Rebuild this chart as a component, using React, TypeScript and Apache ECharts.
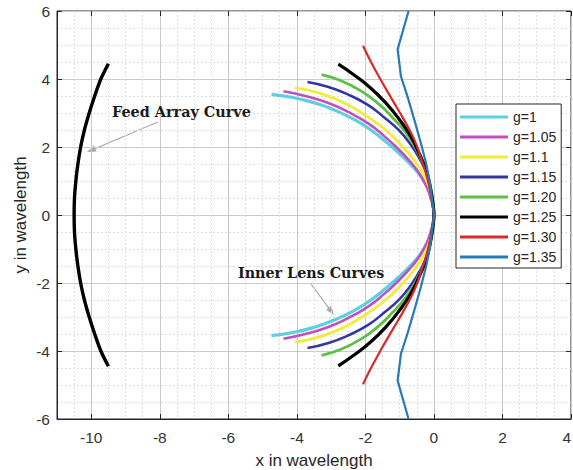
import React, { useEffect, useRef } from 'react';
import * as echarts from 'echarts';

// ---- data ----
const seriesNames = ['g=1', 'g=1.05', 'g=1.1', 'g=1.15', 'g=1.20', 'g=1.25', 'g=1.30', 'g=1.35'];
const seriesColors = ['#5ccfe0', '#c04fc0', '#f0ec3a', '#3434a4', '#5dbf45', '#000000', '#d82a2a', '#2a7ab8'];
const seriesWidths = [3.2, 2.6, 2.8, 2.5, 2.8, 3.2, 2.2, 2.2];

const xTicks = [-10, -8, -6, -4, -2, 0, 2, 4];
const yTicks = [-6, -4, -2, 0, 2, 4, 6];

const feedCurve = [
  [-9.5, 4.45], [-9.72, 4.0], [-9.9, 3.5], [-10.06, 3.0], [-10.2, 2.5], [-10.31, 2.0], [-10.39, 1.5],
  [-10.45, 1.0], [-10.49, 0.5], [-10.5, 0],
  [-10.49, -0.5], [-10.45, -1.0], [-10.39, -1.5], [-10.31, -2.0], [-10.2, -2.5], [-10.06, -3.0],
  [-9.9, -3.5], [-9.72, -4.0], [-9.5, -4.45],
];

// upper halves of the inner lens curves (outer end -> vertex); the curves are symmetric about y = 0
const g100 = [[-4.74, 3.55], [-4.08, 3.45], [-3.49, 3.30], [-2.91, 3.09], [-2.33, 2.81], [-1.84, 2.50], [-1.35, 2.11], [-0.96, 1.76], [-0.62, 1.42], [-0.38, 1.13], [-0.18, 0.78], [-0.07, 0.44], [0, 0]];
const g105 = [[-4.39, 3.64], [-3.78, 3.51], [-3.10, 3.30], [-2.52, 3.04], [-1.93, 2.70], [-1.45, 2.32], [-1.06, 1.96], [-0.72, 1.60], [-0.43, 1.23], [-0.21, 0.83], [-0.09, 0.49], [0, 0]];
const g110 = [[-4.06, 3.74], [-3.49, 3.63], [-2.91, 3.43], [-2.33, 3.14], [-1.79, 2.79], [-1.35, 2.45], [-0.96, 2.06], [-0.62, 1.67], [-0.38, 1.32], [-0.18, 0.93], [-0.07, 0.54], [0, 0]];
const g115 = [[-3.69, 3.91], [-3.10, 3.77], [-2.52, 3.55], [-1.93, 3.24], [-1.45, 2.87], [-1.01, 2.48], [-0.67, 2.06], [-0.40, 1.62], [-0.20, 1.18], [-0.09, 0.74], [0, 0]];
const g120 = [[-3.28, 4.13], [-2.71, 3.95], [-2.13, 3.65], [-1.64, 3.29], [-1.21, 2.87], [-0.82, 2.42], [-0.53, 1.96], [-0.30, 1.47], [-0.14, 0.98], [-0.05, 0.54], [0, 0]];
const g125 = [[-2.79, 4.44], [-2.33, 4.12], [-1.84, 3.73], [-1.40, 3.29], [-1.01, 2.81], [-0.67, 2.30], [-0.43, 1.81], [-0.23, 1.32], [-0.11, 0.83], [-0.03, 0.34], [0, 0]];
const g130 = [[-2.07, 4.98], [-1.84, 4.51], [-1.55, 3.97], [-1.21, 3.38], [-0.87, 2.79], [-0.57, 2.21], [-0.36, 1.62], [-0.18, 1.03], [-0.07, 0.49], [0, 0]];
const g135 = [[-0.74, 6.0], [-1.06, 4.87], [-0.96, 4.07], [-0.77, 3.48], [-0.57, 2.79], [-0.38, 2.11], [-0.23, 1.52], [-0.11, 0.93], [0, 0]];

const lensHalves = [g100, g105, g110, g115, g120, g125, g130, g135];

const X_MIN = -11, X_MAX = 4, Y_MIN = -6, Y_MAX = 6;

const FONT = 'Liberation Sans, Arial, Helvetica, sans-serif';
const SERIF = 'DejaVu Serif, Liberation Serif, serif';
const MAJOR = '#c9c9c9';
const MINOR = '#dedede';
const AXIS = '#262626';

function fullCurve(upper: number[][]) {
  const lower = upper.slice(0, -1).reverse().map(([x, y]) => [x, -y]);
  return [...upper, ...lower];
}

function isTick(v: number, ticks: number[]) {
  return ticks.some((t) => Math.abs(t - v) < 1e-6);
}

function arrow(x1: number, y1: number, x2: number, y2: number) {
  const dx = x2 - x1, dy = y2 - y1, L = Math.hypot(dx, dy);
  const ux = dx / L, uy = dy / L;
  const hl = 9, hw = 3.3;
  const bx = x2 - ux * hl, by = y2 - uy * hl;
  const c = '#a8a8a8';
  return [
    { type: 'line', shape: { x1, y1, x2: bx, y2: by }, style: { stroke: c, lineWidth: 1.2 }, silent: true },
    {
      type: 'polygon',
      shape: { points: [[x2, y2], [bx - uy * hw, by + ux * hw], [bx + uy * hw, by - ux * hw]] },
      style: { fill: c },
      silent: true,
    },
  ];
}

export default function App() {
  const ref = useRef<HTMLDivElement>(null);

  useEffect(() => {
    if (!ref.current) return;
    const chart = echarts.init(ref.current, null, { renderer: 'svg' });

    const W = 573;
    const gl = 57, gr = 2, gt = 11, gb = 51;
    const pxPerX = (W - gl - gr) / (X_MAX - X_MIN);
    const firstMajor = xTicks[0];
    // second grid starts exactly at the first even x tick so that interval 2 counts from it
    const gl2 = gl + (firstMajor - X_MIN) * pxPerX;

    const series: any[] = [
      {
        name: 'Feed Array Curve',
        type: 'line',
        data: feedCurve,
        smooth: 0.3,
        showSymbol: false,
        symbol: 'none',
        z: 3,
        lineStyle: { color: '#000', width: 3.4 },
        silent: true,
      },
    ];
    lensHalves.forEach((h, i) => {
      series.push({
        name: seriesNames[i],
        type: 'line',
        data: fullCurve(h),
        smooth: i === 7 ? false : 0.5,
        symbol: 'none',
        showSymbol: false,
        z: 3,
        color: seriesColors[i],
        lineStyle: { color: seriesColors[i], width: seriesWidths[i] },
        silent: true,
      });
    });

    const hiddenLabels = { show: false };

    chart.setOption({
      animation: false,
      backgroundColor: '#ffffff',
      grid: [
        {
          left: gl, right: gr, top: gt, bottom: gb,
          show: true, borderColor: AXIS, borderWidth: 1,
          containLabel: false, outerBoundsMode: 'none',
        },
        {
          left: gl2, right: gr, top: gt, bottom: gb,
          show: false, containLabel: false, outerBoundsMode: 'none',
        },
      ],
      xAxis: [
        {
          gridIndex: 0,
          type: 'value',
          min: X_MIN, max: X_MAX, interval: 0.5,
          axisLine: { show: true, onZero: false, lineStyle: { color: AXIS, width: 1 } },
          axisTick: { show: false },
          splitLine: { show: true, lineStyle: { color: MINOR, width: 1, type: [2, 2] } },
          name: 'x in wavelength',
          nameLocation: 'middle',
          nameGap: 33,
          nameMoveOverlap: false,
          nameTextStyle: { fontSize: 17, color: AXIS, fontFamily: FONT },
          axisLabel: {
            margin: 10, fontSize: 15.5, color: '#333', fontFamily: FONT,
            alignMaxLabel: 'right',
            formatter: (v: number) => (isTick(v, xTicks) ? String(Math.round(v)) : ''),
          },
        },
        {
          gridIndex: 1,
          type: 'value',
          position: 'bottom',
          min: firstMajor, max: X_MAX, interval: 2,
          axisLine: { show: false, onZero: false },
          axisTick: { show: true, inside: true, length: 5, lineStyle: { color: AXIS, width: 1 } },
          axisLabel: hiddenLabels,
          splitLine: { show: true, lineStyle: { color: MAJOR, width: 1, type: 'solid' } },
        },
        {
          gridIndex: 1,
          type: 'value',
          position: 'top',
          min: firstMajor, max: X_MAX, interval: 2,
          axisLine: { show: false, onZero: false },
          axisTick: { show: true, inside: true, length: 5, lineStyle: { color: AXIS, width: 1 } },
          axisLabel: hiddenLabels,
          splitLine: { show: false },
        },
      ],
      yAxis: [
        {
          gridIndex: 0,
          type: 'value',
          min: Y_MIN, max: Y_MAX, interval: 2,
          axisLine: { show: true, onZero: false, lineStyle: { color: AXIS, width: 1 } },
          axisTick: { show: true, inside: true, length: 5, lineStyle: { color: AXIS, width: 1 } },
          splitLine: { show: true, lineStyle: { color: MAJOR, width: 1, type: 'solid' } },
          minorTick: { show: false, splitNumber: 4 },
          minorSplitLine: { show: true, lineStyle: { color: MINOR, width: 1, type: [2, 2] } },
          name: 'y in wavelength',
          nameLocation: 'middle',
          nameGap: 28,
          nameMoveOverlap: false,
          nameTextStyle: { fontSize: 17, color: AXIS, fontFamily: FONT },
          axisLabel: {
            margin: 7, fontSize: 15.5, color: '#333', fontFamily: FONT,
            formatter: (v: number) => (isTick(v, yTicks) ? String(Math.round(v)) : ''),
          },
        },
        {
          gridIndex: 0,
          type: 'value',
          position: 'right',
          min: Y_MIN, max: Y_MAX, interval: 2,
          axisLine: { show: false, onZero: false },
          axisTick: { show: true, inside: true, length: 5, lineStyle: { color: AXIS, width: 1 } },
          axisLabel: hiddenLabels,
          splitLine: { show: false },
        },
        {
          gridIndex: 1,
          type: 'value',
          min: Y_MIN, max: Y_MAX,
          show: false,
        },
      ],
      legend: {
        data: seriesNames,
        orient: 'vertical',
        left: 456, top: 104,
        icon: 'rect',
        itemWidth: 48, itemHeight: 3, itemGap: 6,
        padding: [6, 5, 4, 4],
        backgroundColor: '#ffffff',
        borderColor: AXIS, borderWidth: 1, borderRadius: 0,
        textStyle: { fontSize: 14, color: AXIS, fontFamily: FONT, lineHeight: 14 },
        selectedMode: false,
      },
      series,
      graphic: [
        {
          type: 'text', x: 112, y: 111, silent: true, z: 10,
          style: { text: 'Feed Array Curve', fontSize: 14.4, fontWeight: 'bold', fontFamily: SERIF, fill: '#1a1a1a', verticalAlign: 'middle', align: 'left' },
        },
        {
          type: 'text', x: 238, y: 273, silent: true, z: 10,
          style: { text: 'Inner Lens Curves', fontSize: 14.3, fontWeight: 'bold', fontFamily: SERIF, fill: '#1a1a1a', verticalAlign: 'middle', align: 'left' },
        },
        ...arrow(158, 122, 87, 152),
        ...arrow(311, 284, 334, 315),
      ],
    });

    return () => chart.dispose();
  }, []);

  return <div ref={ref} style={{ position: 'absolute', left: 0, top: 0, width: 573, height: 470 }} />;
}
